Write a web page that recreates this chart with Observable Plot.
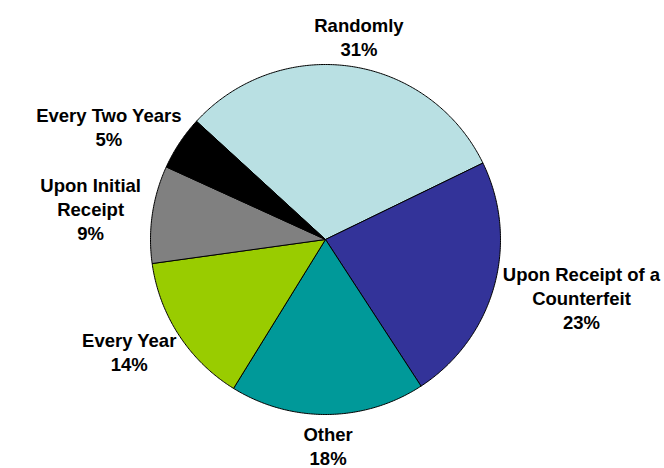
<!DOCTYPE html>
<html>
<head>
<meta charset="utf-8">
<script src="https://cdn.jsdelivr.net/npm/d3@7"></script>
<script src="https://cdn.jsdelivr.net/npm/@observablehq/plot@0.6"></script>
<style>
  html, body { margin: 0; padding: 0; background: #ffffff; }
  #chart { width: 664px; height: 468px; }
</style>
</head>
<body>
<div id="chart"></div>
<script>
// ---- data ----
const categories = ["Randomly", "Upon Receipt of a\nCounterfeit", "Other", "Every Year", "Upon Initial\nReceipt", "Every Two Years"];
const values = [31, 23, 18, 14, 9, 5];
const colors = ["#B9E0E3", "#333399", "#009999", "#99CC00", "#808080", "#000000"];

// ---- layout ----
const W = 664, H = 468;
const cx = 325, cy = 239, R = 175;
const startDeg = -47.5;
const fontSize = 18.5, lineH = 24, capH = 13;
const labelDist = 187;
const fontFamily = "'Liberation Sans', Arial, Helvetica, sans-serif";

const data = categories.map((c, i) => ({category: c, value: values[i]}));
const start = startDeg * Math.PI / 180;
const arcs = d3.pie().sort(null).value(d => d.value).startAngle(start).endAngle(start + 2 * Math.PI)(data);

// slice outlines (unit radius, angle clockwise from north)
const slicePts = [];
arcs.forEach(a => {
  const c = a.data.category;
  slicePts.push({category: c, x: 0, y: 0});
  const n = Math.max(8, Math.ceil((a.endAngle - a.startAngle) / 0.01));
  for (let k = 0; k <= n; k++) {
    const t = a.startAngle + (a.endAngle - a.startAngle) * k / n;
    slicePts.push({category: c, x: Math.sin(t), y: Math.cos(t)});
  }
  slicePts.push({category: c, x: 0, y: 0});
});

// label positions computed from mid angles and measured text box
const ctx = document.createElement("canvas").getContext("2d");
ctx.font = `bold ${fontSize}px ${fontFamily}`;
const labels = arcs.map(a => {
  const txt = a.data.category + "\n" + a.data.value + "%";
  const lines = txt.split("\n");
  const w = d3.max(lines, l => ctx.measureText(l).width);
  const h = (lines.length - 1) * lineH + capH;
  const mid = (a.startAngle + a.endAngle) / 2;
  const ux = Math.sin(mid), uy = -Math.cos(mid); // screen coords (down positive)
  const px = labelDist * ux + (w / 2) * ux;
  const py = labelDist * uy + (h / 2) * uy;
  return {text: txt, x: px / R, y: -py / R};
});

const chart = Plot.plot({
  width: W,
  height: H,
  margin: 0,
  x: {domain: [-cx / R, (W - cx) / R], axis: null},
  y: {domain: [-(H - cy) / R, cy / R], axis: null},
  color: {domain: categories, range: colors},
  style: {background: "#ffffff", fontFamily},
  marks: [
    Plot.line(slicePts, {x: "x", y: "y", z: "category", fill: "category", stroke: "#000000", strokeWidth: 1, strokeLinejoin: "round", curve: "linear"}),
    Plot.text(labels, {x: "x", y: "y", text: "text", fontSize, fontWeight: "bold", fill: "#000000", textAnchor: "middle", lineAnchor: "middle", lineHeight: lineH / fontSize, fontFamily})
  ]
});
document.getElementById("chart").appendChild(chart);
</script>
</body>
</html>
